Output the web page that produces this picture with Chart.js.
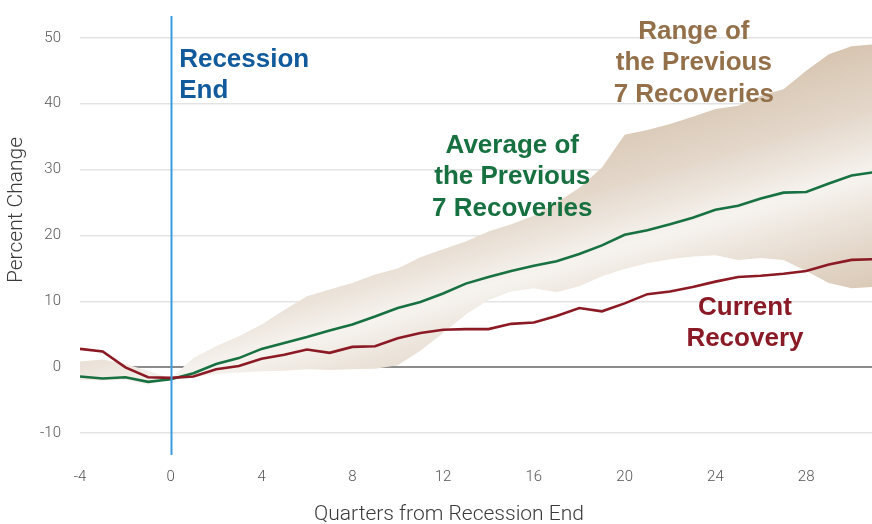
<!DOCTYPE html>
<html>
<head>
<meta charset="utf-8">
<script src="https://cdn.jsdelivr.net/npm/chart.js@4/dist/chart.umd.min.js"></script>
<style>
  html, body { margin: 0; padding: 0; background: #ffffff; }
  #wrap { width: 872px; height: 524px; }
</style>
</head>
<body>
<div id="wrap"><canvas id="c" width="872" height="524"></canvas></div>
<script>
// ---- data ----
const quarters = [-4,-3,-2,-1,0,1,2,3,4,5,6,7,8,9,10,11,12,13,14,15,16,17,18,19,20,21,22,23,24,25,26,27,28,29,30,31];
const currentRecovery = [2.8,2.4,0.0,-1.5,-1.6,-1.4,-0.3,0.2,1.3,1.9,2.7,2.2,3.1,3.2,4.4,5.2,5.7,5.8,5.8,6.6,6.8,7.8,9.0,8.5,9.7,11.1,11.5,12.2,13.0,13.7,13.9,14.2,14.6,15.6,16.3,16.4];
const averagePrevious = [-1.4,-1.7,-1.5,-2.2,-1.8,-0.9,0.5,1.4,2.8,3.7,4.6,5.6,6.5,7.7,9.0,9.9,11.2,12.7,13.7,14.6,15.4,16.1,17.2,18.5,20.1,20.8,21.7,22.7,23.9,24.5,25.6,26.5,26.6,27.9,29.1,29.6];
const rangeHigh = [0.9,1.2,0.5,-0.5,-1.7,1.4,3.2,4.7,6.5,8.7,10.8,11.8,12.8,14.1,15.0,16.7,17.9,19.1,20.6,21.7,23.0,25.0,27.2,30.3,35.3,36.0,36.9,38.0,39.2,39.7,41.2,42.2,45.0,47.5,48.7,49.0];
const rangeLow = [-1.9,-2.0,-1.9,-2.6,-1.8,-1.5,-1.0,-0.8,-0.6,-0.5,-0.3,-0.4,-0.3,-0.2,0.3,2.5,5.2,8.0,10.2,11.5,12.0,11.4,12.3,13.8,14.9,15.8,16.4,16.8,17.0,16.3,16.6,16.3,14.6,12.8,12.0,12.2];
const xTickValues = [-4,0,4,8,12,16,20,24,28];
const yTickValues = [-10,0,10,20,30,40,50];
const recessionEnd = 0;

// annotation labels: text lines + anchor in data units
const labels = [
  { lines: ['Recession', 'End'], x: 0.37, y: 45.6, align: 'left', color: '#115a9b' },
  { lines: ['Average of', 'the Previous', '7 Recoveries'], x: 15.05, y: 32.5, align: 'center', color: '#167040' },
  { lines: ['Range of', 'the Previous', '7 Recoveries'], x: 23.05, y: 49.8, align: 'center', color: '#93704a' },
  { lines: ['Current', 'Recovery'], x: 25.3, y: 8.0, align: 'center', color: '#8a1a26' }
];
const xTitle = 'Quarters from Recession End';
const yTitle = 'Percent Change';

const toPts = arr => arr.map((v, i) => ({ x: quarters[i], y: v }));

function bandGradient(ctx) {
  const chart = ctx.chart;
  const area = chart.chartArea;
  if (!area) return '#efe8e0';
  const xs = chart.scales.x, ys = chart.scales.y;
  const p0 = { x: xs.getPixelForValue(0), y: ys.getPixelForValue(averagePrevious[4]) };
  const p1 = { x: xs.getPixelForValue(31), y: ys.getPixelForValue(averagePrevious[35]) };
  let dx = p1.x - p0.x, dy = p1.y - p0.y;
  const len = Math.hypot(dx, dy); dx /= len; dy /= len;
  const nx = -dy, ny = dx;
  const cx = (p0.x + p1.x) / 2, cy = (p0.y + p1.y) / 2;
  const R = 135;
  const g = chart.ctx.createLinearGradient(cx - nx * R, cy - ny * R, cx + nx * R, cy + ny * R);
  g.addColorStop(0, '#d6c3ae');
  g.addColorStop(0.28, '#e4d8cb');
  g.addColorStop(0.5, '#f6f3ef');
  g.addColorStop(0.72, '#e6dbcf');
  g.addColorStop(1, '#d4c0aa');
  return g;
}

const overlay = {
  id: 'overlay',
  afterDatasetsDraw(chart) {
    const { ctx, chartArea: a, scales: { x, y } } = chart;
    ctx.save();
    // recession end line
    const bx = Math.round(x.getPixelForValue(recessionEnd)) + 0.5;
    ctx.strokeStyle = '#3b9be0';
    ctx.lineWidth = 2;
    ctx.beginPath();
    ctx.moveTo(bx, a.top);
    ctx.lineTo(bx, a.bottom);
    ctx.stroke();
    // labels
    ctx.font = 'bold 26px "Liberation Sans", Arial, sans-serif';
    ctx.textBaseline = 'alphabetic';
    labels.forEach(l => {
      ctx.fillStyle = l.color;
      ctx.textAlign = l.align;
      const px = x.getPixelForValue(l.x);
      const py = y.getPixelForValue(l.y);
      l.lines.forEach((t, i) => ctx.fillText(t, px, py + i * 31.3));
    });
    ctx.restore();
  },
  afterDraw(chart) {
    const { ctx } = chart;
    ctx.save();
    ctx.fillStyle = '#3a3a3a';
    ctx.font = '300 21px Roboto, "Liberation Sans", sans-serif';
    ctx.textAlign = 'center';
    ctx.textBaseline = 'middle';
    ctx.fillText(xTitle, 449, 515);
    ctx.translate(17, 210);
    ctx.rotate(-Math.PI / 2);
    ctx.fillText(yTitle, 0, 0);
    ctx.restore();
  }
};

new Chart(document.getElementById('c'), {
  type: 'line',
  data: {
    datasets: [
      { label: 'Current Recovery', data: toPts(currentRecovery), borderColor: '#8b1a24', borderWidth: 2.6, pointRadius: 0, fill: false, order: 0, tension: 0 },
      { label: 'Average of the Previous 7 Recoveries', data: toPts(averagePrevious), borderColor: '#177140', borderWidth: 2.6, pointRadius: 0, fill: false, order: 1, tension: 0 },
      { label: 'Range high', data: toPts(rangeHigh), borderWidth: 0, borderColor: 'rgba(0,0,0,0)', pointRadius: 0, fill: '+1', backgroundColor: bandGradient, order: 2 },
      { label: 'Range low', data: toPts(rangeLow), borderWidth: 0, borderColor: 'rgba(0,0,0,0)', pointRadius: 0, fill: false, order: 3 }
    ]
  },
  options: {
    responsive: false,
    devicePixelRatio: 1,
    animation: false,
    layout: { padding: { top: 16, right: 0, left: 0, bottom: 0 } },
    plugins: { legend: { display: false }, tooltip: { enabled: false }, title: { display: false } },
    scales: {
      x: {
        type: 'linear', min: -4, max: 30.9,
        afterBuildTicks: s => { s.ticks = xTickValues.map(v => ({ value: v })); },
        afterFit: s => { s.height = 69; s.paddingLeft = 0; s.paddingRight = 0; },
        grid: { display: false, drawTicks: false },
        border: { display: false },
        ticks: { padding: 13, color: '#555', font: { family: 'Roboto, "Liberation Sans", sans-serif', size: 15, weight: '300' }, maxRotation: 0, autoSkip: false }
      },
      y: {
        type: 'linear', min: -13.3, max: 53.3,
        afterBuildTicks: s => { s.ticks = yTickValues.map(v => ({ value: v })); },
        afterFit: s => { s.width = 80; s.paddingTop = 0; s.paddingBottom = 0; },
        grid: {
          drawTicks: false,
          color: c => c.tick && c.tick.value === 0 ? '#8c8c8c' : '#e3e3e3',
          lineWidth: c => c.tick && c.tick.value === 0 ? 2 : 1.5
        },
        border: { display: false },
        ticks: { padding: 19, color: '#555', font: { family: 'Roboto, "Liberation Sans", sans-serif', size: 15, weight: '300' } }
      }
    }
  },
  plugins: [overlay]
});
</script>
</body>
</html>
